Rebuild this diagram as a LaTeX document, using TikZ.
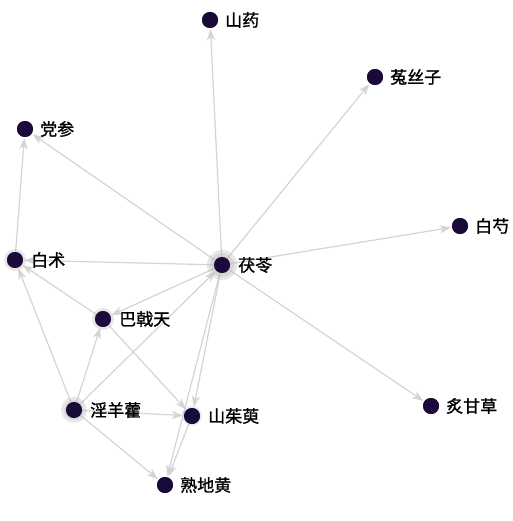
\documentclass[tikz,border=0pt]{standalone}
\usepackage{fontspec}
\newfontfamily\cjk{Noto Sans CJK SC}[FakeBold=1.2]
\usetikzlibrary{arrows.meta}
\definecolor{nodecol}{RGB}{26,10,58}
\definecolor{edgecol}{RGB}{212,212,212}
\definecolor{halocol}{RGB}{185,185,185}
\tikzset{
  herb/.style={circle,fill=nodecol,draw=none,minimum size=16pt,inner sep=0pt},
  lbl/.style={anchor=west,font=\cjk\fontsize{17}{17}\selectfont,text=black,inner sep=0pt},
  link/.style={draw=edgecol,line width=1.2pt,-{Stealth[length=11pt,width=8pt,inset=3pt,fill=edgecol]},shorten >=1pt},
  halo/.style={circle,fill=halocol,fill opacity=0.35,minimum size=26pt,inner sep=0pt},
}
\begin{document}
\begin{tikzpicture}[x=1pt,y=-1pt]
\useasboundingbox (0,0) rectangle (512,521);
% nodes
\node[herb] (shanyao) at (210,20) {};
\node[herb] (tusizi) at (375,77) {};
\node[herb] (dangshen) at (25,129) {};
\node[herb] (baishao) at (460,226) {};
\node[herb] (baizhu) at (15,260) {};
\node[herb] (fuling) at (222,265) {};
\node[herb] (bajitian) at (103,319) {};
\node[herb] (yinyanghuo) at (74,410) {};
\node[herb] (shanzhuyu) at (192,416) {};
\node[herb] (zhigancao) at (431,406) {};
\node[herb] (shudihuang) at (165,485) {};
% edges
\draw[link] (fuling) -- (shanyao);
\draw[link] (fuling) -- (tusizi);
\draw[link] (fuling) -- (baishao);
\draw[link] (fuling) -- (dangshen);
\draw[link] (fuling) -- (zhigancao);
\draw[link] (fuling) -- (baizhu);
\draw[link] (fuling) -- (bajitian);
\draw[link] (fuling) -- (shanzhuyu);
\draw[link] (fuling) -- (shudihuang);
\draw[link] (baizhu) -- (dangshen);
\draw[link] (bajitian) -- (baizhu);
\draw[link] (bajitian) -- (shanzhuyu);
\draw[link] (yinyanghuo) -- (baizhu);
\draw[link] (yinyanghuo) -- (bajitian);
\draw[link] (yinyanghuo) -- (fuling);
\draw[link] (yinyanghuo) -- (shanzhuyu);
\draw[link] (yinyanghuo) -- (shudihuang);
\draw[link] (shanzhuyu) -- (shudihuang);
% halos
\node[halo,minimum size=30pt] at (222,265) {};
\node[halo,minimum size=24pt] at (222,265) {};
\node[halo] at (74,410) {};
\node[halo,minimum size=20pt] at (74,410) {};
\node[halo,minimum size=22pt] at (103,319) {};
\node[halo,minimum size=22pt] at (15,260) {};
\node[halo,minimum size=20pt,fill opacity=0.25] at (192,416) {};
% redraw nodes on top
\foreach \p in {(210,20),(375,77),(25,129),(460,226),(15,260),(222,265),(103,319),(74,410),(192,416),(431,406),(165,485)}
  \fill[nodecol] \p circle (8pt);
% labels
\node[lbl] (l1) at (225,20) {山药};
\node[lbl] (l2) at (390,77) {菟丝子};
\node[lbl] (l3) at (40,129) {党参};
\node[lbl] (l4) at (475,226) {白芍};
\node[lbl] (l5) at (31,260) {白术};
\node[lbl] (l6) at (238,265) {茯苓};
\node[lbl] (l7) at (119,319) {巴戟天};
\node[lbl] (l8) at (90,410) {淫羊藿};
\node[lbl] (l9) at (208,416) {山茱萸};
\node[lbl] (l10) at (446,406) {炙甘草};
\node[lbl] (l11) at (180,485) {熟地黄};
\end{tikzpicture}
\end{document}
